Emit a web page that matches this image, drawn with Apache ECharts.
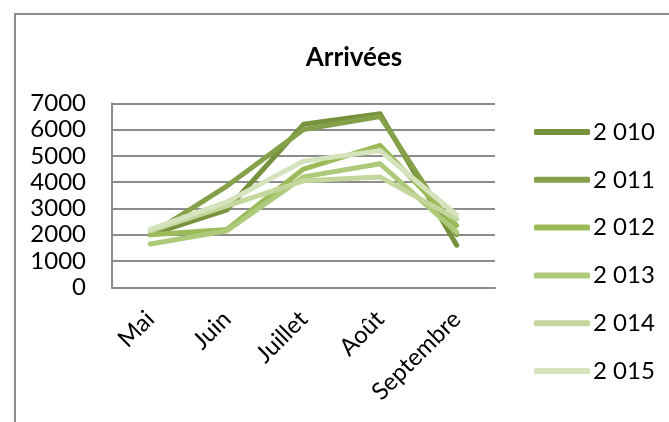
<!DOCTYPE html>
<html><head><meta charset="utf-8">
<script src="https://cdn.jsdelivr.net/npm/echarts@6/dist/echarts.min.js"></script>
<style>html,body{margin:0;padding:0;background:#fff}#c{width:669px;height:422px}</style>
</head><body><div id="c"></div>
<script>
const categories = ['Mai', 'Juin', 'Juillet', 'Août', 'Septembre'];
const seriesNames = ['2 010', '2 011', '2 012', '2 013', '2 014', '2 015'];
const v2010 = [2000, 2950, 6200, 6600, 1600];
const v2011 = [2000, 3850, 6000, 6500, 2000];
const v2012 = [2000, 2200, 4500, 5400, 2350];
const v2013 = [1650, 2150, 4200, 4700, 2100];
const v2014 = [2150, 3100, 4050, 4200, 2600];
const v2015 = [2200, 3250, 4800, 5200, 2750];
const yTicks = [0, 1000, 2000, 3000, 4000, 5000, 6000, 7000];
const colors = ['#76923C', '#84A14A', '#9BBB59', '#ADC97A', '#C3D69B', '#D4E3BC'];
const allValues = [v2010, v2011, v2012, v2013, v2014, v2015];

const FONT = 'Lato, "Open Sans", sans-serif';
const chart = echarts.init(document.getElementById('c'), null, {renderer: 'canvas'});
chart.setOption({
  animation: false,
  backgroundColor: '#fff',
  graphic: [{
    type: 'polyline',
    shape: {points: [[15, 422], [15, 14], [669, 14]]},
    style: {stroke: '#8c8c8c', lineWidth: 2, fill: null}
  }],
  title: {
    text: 'Arrivées', left: 349, top: 40, textAlign: 'center',
    textStyle: {fontFamily: FONT, fontWeight: 'bold', fontSize: 26, color: '#000'}
  },
  color: colors,
  legend: {
    orient: 'vertical', left: 529, top: 115,
    itemWidth: 56, itemHeight: 6, itemGap: 23.8,
    icon: 'roundRect',
    data: seriesNames,
    textStyle: {fontFamily: FONT, fontSize: 24, color: '#000', lineHeight: 24, padding: [0, 0, 0, -2]}
  },
  grid: {left: 112, top: 103.3, right: 174, bottom: 134.7, containLabel: false},
  xAxis: {
    type: 'category', data: categories, boundaryGap: true,
    axisLine: {show: true, lineStyle: {color: '#8c8c8c', width: 2}},
    axisTick: {show: false},
    axisLabel: {rotate: 45, margin: 28, fontFamily: FONT, fontSize: 24, color: '#000', interval: 0}
  },
  yAxis: {
    type: 'value', min: yTicks[0], max: yTicks[yTicks.length - 1], interval: 1000,
    axisLine: {show: true, lineStyle: {color: '#8c8c8c', width: 2}},
    axisTick: {show: false},
    splitLine: {show: true, lineStyle: {color: '#8c8c8c', width: 2}},
    axisLabel: {margin: 26, fontFamily: FONT, fontSize: 24, color: '#000', formatter: v => String(v)}
  },
  series: seriesNames.map((n, i) => ({
    name: n, type: 'line', data: allValues[i],
    symbol: 'none', showSymbol: false,
    lineStyle: {width: 5, color: colors[i], cap: 'round', join: 'round'},
    itemStyle: {color: colors[i]}
  }))
});
</script></body></html>
